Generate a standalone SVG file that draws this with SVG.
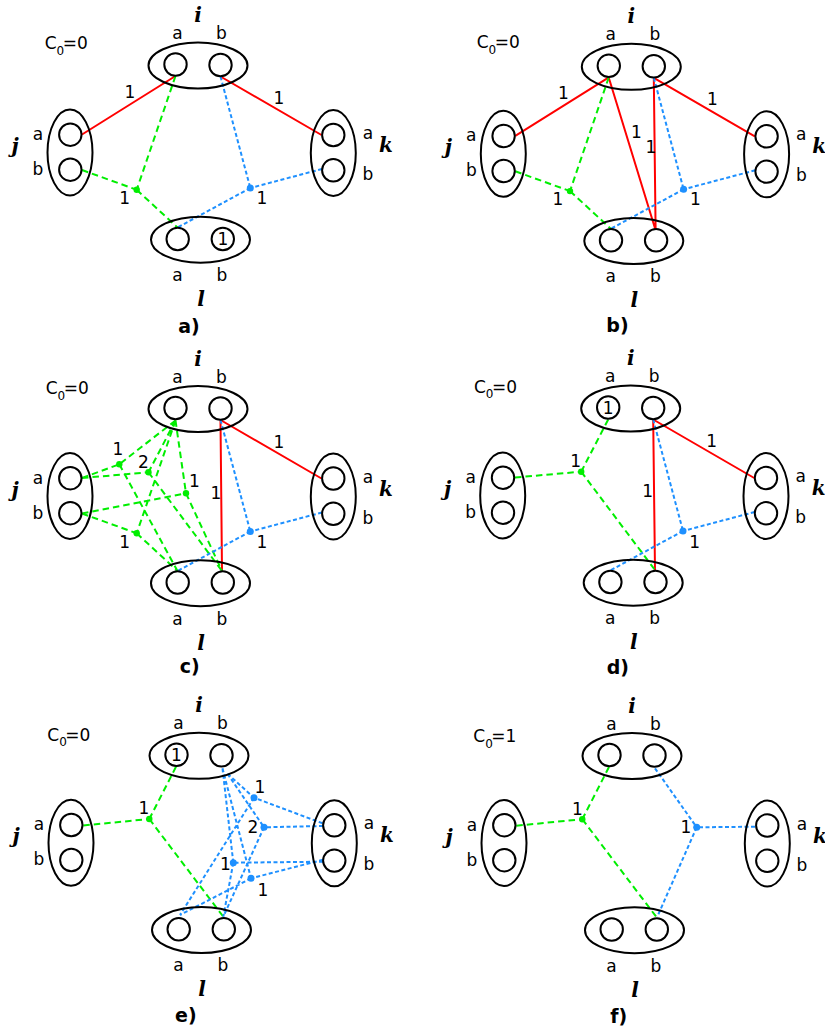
<svg xmlns="http://www.w3.org/2000/svg" width="825" height="1030" viewBox="0 0 825 1030">
<style>
.ell{fill:none;stroke:#000;stroke-width:2}
.lbl{font-family:"DejaVu Sans",sans-serif;font-size:17px;text-anchor:middle;fill:#000}
.c0{font-family:"DejaVu Sans",sans-serif;font-size:17px;fill:#000}
.sub{font-size:12px}
.nm{font-family:"DejaVu Serif",serif;font-weight:bold;font-style:italic;font-size:20px;text-anchor:middle;fill:#000}
.ttl{font-family:"DejaVu Sans",sans-serif;font-weight:bold;font-size:19px;text-anchor:middle;fill:#000}
.red{stroke:#ff0000;stroke-width:2;fill:none}
.grn{stroke:#00ee00;stroke-width:2;stroke-dasharray:6.5 4;fill:none}
.blu{stroke:#1e90ff;stroke-width:2;stroke-dasharray:4 2.5;fill:none}
.gd{fill:#00ee00}
.bd{fill:#1e90ff}
</style>
<rect width="825" height="1030" fill="#fff"/>

<!-- Panel a -->
<g id="panel-a" transform="translate(0,0)">
  <g id="a-connectors">
    <path class="red" d="M175.5,76 L82,134.5 M220.5,76.5 L321.5,135"/>
    <path class="grn" d="M82,170 L136.7,189.8 M175.5,76 L136.7,189.8 M136.7,189.8 L177.5,227.5"/>
    <path class="blu" d="M220.5,76.5 L250.3,188 M322,169 L250.3,188 M250.3,188 L177.5,227.5"/>
    <circle class="gd" cx="136.7" cy="189.8" r="3.2"/>
    <circle class="bd" cx="250.3" cy="188" r="3.5"/>
    <text class="lbl" x="130" y="98">1</text>
    <text class="lbl" x="279" y="104">1</text>
    <text class="lbl" x="124.7" y="204">1</text>
    <text class="lbl" x="262" y="204">1</text>
  </g>
  <g id="a-i"><ellipse class="ell" cx="198" cy="65.5" rx="49.5" ry="23"/><circle class="ell" cx="175.5" cy="64.5" r="11.2"/><circle class="ell" cx="220.5" cy="65" r="11.2"/><text class="lbl" x="177.5" y="39">a</text><text class="lbl" x="221.5" y="39">b</text><text class="nm" x="198" y="22">i</text></g>
  <g id="a-j"><ellipse class="ell" cx="70" cy="152.5" rx="22.5" ry="43"/><circle class="ell" cx="70.3" cy="134.7" r="11.2"/><circle class="ell" cx="70.3" cy="169.7" r="11.2"/><text class="lbl" x="38" y="140">a</text><text class="lbl" x="38" y="175">b</text><text class="nm" x="15" y="153">j</text></g>
  <g id="a-k"><ellipse class="ell" cx="333.3" cy="153" rx="22.5" ry="43"/><circle class="ell" cx="333.3" cy="135" r="11.2"/><circle class="ell" cx="333.3" cy="170.3" r="11.2"/><text class="lbl" x="368" y="139">a</text><text class="lbl" x="368" y="180">b</text><text class="nm" x="386" y="152">k</text></g>
  <g id="a-l"><ellipse class="ell" cx="200.5" cy="239.7" rx="49.5" ry="23"/><circle class="ell" cx="177.7" cy="239" r="11.2"/><circle class="ell" cx="222.8" cy="239" r="11.2"/><text class="lbl" x="222.8" y="245">1</text><text class="lbl" x="177.5" y="281">a</text><text class="lbl" x="222" y="281">b</text><text class="nm" x="201" y="306">l</text></g>
  <text id="a-c0" class="c0" x="44.7" y="49">C<tspan class="sub" dy="5.5">0</tspan><tspan dx="-1.5" dy="-5.5">=0</tspan></text>
</g>
<text class="ttl" x="189" y="333">a)</text>

<!-- Panel b -->
<g id="panel-b" transform="translate(433.3,1.3)">
  <g id="b-connectors">
    <path class="red" d="M175.5,76 L82,134.5 M220.5,76.5 L321.5,135 M175.5,76.5 L222,228 M220.5,76.5 L222.3,228"/>
    <path class="grn" d="M82,170 L136.7,189.8 M175.5,76 L136.7,189.8 M136.7,189.8 L177.5,227.5"/>
    <path class="blu" d="M220.5,76.5 L250.3,188 M322,169 L250.3,188 M250.3,188 L177.5,227.5"/>
    <circle class="gd" cx="136.7" cy="189.8" r="3.2"/>
    <circle class="bd" cx="250.3" cy="188" r="3.5"/>
    <text class="lbl" x="130" y="98">1</text>
    <text class="lbl" x="279" y="104">1</text>
    <text class="lbl" x="203" y="137">1</text>
    <text class="lbl" x="217.5" y="152">1</text>
    <text class="lbl" x="124.7" y="204">1</text>
    <text class="lbl" x="262" y="204">1</text>
  </g>
  <g id="b-i"><ellipse class="ell" cx="198" cy="65.5" rx="49.5" ry="23"/><circle class="ell" cx="175.5" cy="64.5" r="11.2"/><circle class="ell" cx="220.5" cy="65" r="11.2"/><text class="lbl" x="177.5" y="39">a</text><text class="lbl" x="221.5" y="39">b</text><text class="nm" x="198" y="22">i</text></g>
  <g id="b-j"><ellipse class="ell" cx="70" cy="152.5" rx="22.5" ry="43"/><circle class="ell" cx="70.3" cy="134.7" r="11.2"/><circle class="ell" cx="70.3" cy="169.7" r="11.2"/><text class="lbl" x="38" y="140">a</text><text class="lbl" x="38" y="175">b</text><text class="nm" x="15" y="153">j</text></g>
  <g id="b-k"><ellipse class="ell" cx="333.3" cy="153" rx="22.5" ry="43"/><circle class="ell" cx="333.3" cy="135" r="11.2"/><circle class="ell" cx="333.3" cy="170.3" r="11.2"/><text class="lbl" x="368" y="139">a</text><text class="lbl" x="368" y="180">b</text><text class="nm" x="386" y="152">k</text></g>
  <g id="b-l"><ellipse class="ell" cx="200.5" cy="239.7" rx="49.5" ry="23"/><circle class="ell" cx="177.7" cy="239" r="11.2"/><circle class="ell" cx="222.8" cy="239" r="11.2"/><text class="lbl" x="177.5" y="281">a</text><text class="lbl" x="222" y="281">b</text><text class="nm" x="201" y="306">l</text></g>
  <text id="b-c0" class="c0" x="43.4" y="47">C<tspan class="sub" dy="5.5">0</tspan><tspan dx="-1.5" dy="-5.5">=0</tspan></text>
</g>
<text class="ttl" x="617.5" y="332">b)</text>

<!-- Panel c -->
<g id="panel-c" transform="translate(0,343.5)">
  <g id="c-connectors">
    <path class="red" d="M220.5,76.5 L321.5,135 M220.5,77 L222,227.5"/>
    <path class="grn" d="M82,134.5 L119.3,120.8 M175.5,77 L119.3,120.8 M119.3,120.8 L177.5,227.5 M82,134.5 L148.5,128.8 M175.5,77 L148.5,128.8 M148.5,128.8 L222,227.5 M82,170 L186,149.8 M175.5,77 L186,149.8 M186,149.8 L222,227.5 M82,170 L136.7,189.8 M175.5,77 L136.7,189.8 M136.7,189.8 L177.5,227.5"/>
    <path class="blu" d="M220.5,76.5 L250.3,188 M322,169 L250.3,188 M250.3,188 L177.5,227.5"/>
    <circle class="gd" cx="119.3" cy="120.8" r="3.2"/>
    <circle class="gd" cx="148.5" cy="128.8" r="3.2"/>
    <circle class="gd" cx="186" cy="149.8" r="3.2"/>
    <circle class="gd" cx="136.7" cy="189.8" r="3.2"/>
    <circle class="bd" cx="250.3" cy="188" r="3.5"/>
    <text class="lbl" x="279" y="104">1</text>
    <text class="lbl" x="215.8" y="155.8">1</text>
    <text class="lbl" x="118" y="111.5">1</text>
    <text class="lbl" x="143.3" y="124.2">2</text>
    <text class="lbl" x="194.5" y="143.2">1</text>
    <text class="lbl" x="124.7" y="204.2">1</text>
    <text class="lbl" x="262" y="204.5">1</text>
  </g>
  <g id="c-i"><ellipse class="ell" cx="198" cy="65.5" rx="49.5" ry="23"/><circle class="ell" cx="175.5" cy="64.5" r="11.2"/><circle class="ell" cx="220.5" cy="65" r="11.2"/><text class="lbl" x="177.5" y="39">a</text><text class="lbl" x="221.5" y="39">b</text><text class="nm" x="198" y="22">i</text></g>
  <g id="c-j"><ellipse class="ell" cx="70" cy="152.5" rx="22.5" ry="43"/><circle class="ell" cx="70.3" cy="134.7" r="11.2"/><circle class="ell" cx="70.3" cy="169.7" r="11.2"/><text class="lbl" x="38" y="140">a</text><text class="lbl" x="38" y="175">b</text><text class="nm" x="15" y="153">j</text></g>
  <g id="c-k"><ellipse class="ell" cx="333.3" cy="153" rx="22.5" ry="43"/><circle class="ell" cx="333.3" cy="135" r="11.2"/><circle class="ell" cx="333.3" cy="170.3" r="11.2"/><text class="lbl" x="368" y="139">a</text><text class="lbl" x="368" y="180">b</text><text class="nm" x="386" y="152">k</text></g>
  <g id="c-l"><ellipse class="ell" cx="200.5" cy="239.7" rx="49.5" ry="23"/><circle class="ell" cx="177.7" cy="239" r="11.2"/><circle class="ell" cx="222.8" cy="239" r="11.2"/><text class="lbl" x="177.5" y="281">a</text><text class="lbl" x="222" y="281">b</text><text class="nm" x="201" y="306">l</text></g>
  <text id="c-c0" class="c0" x="45.7" y="50.5">C<tspan class="sub" dy="5.5">0</tspan><tspan dx="-1.5" dy="-5.5">=0</tspan></text>
</g>
<text class="ttl" x="189.7" y="673">c)</text>

<!-- Panel d -->
<g id="panel-d" transform="translate(432.7,343)">
  <g id="d-connectors">
    <path class="red" d="M220.5,76.5 L321.5,135 M220.5,77 L222.3,227.5"/>
    <path class="grn" d="M82.3,134.5 L148.5,128.7 M175.5,76.5 L148.5,128.7 M148.5,128.7 L222.3,227"/>
    <path class="blu" d="M220.5,76.5 L250.3,188 M322,169 L250.3,188 M250.3,188 L177.5,227.5"/>
    <circle class="gd" cx="148.5" cy="128.7" r="3.2"/>
    <circle class="bd" cx="250.3" cy="188" r="3.5"/>
    <text class="lbl" x="279" y="104">1</text>
    <text class="lbl" x="215" y="154.3">1</text>
    <text class="lbl" x="143" y="123.7">1</text>
    <text class="lbl" x="262" y="204.5">1</text>
  </g>
  <g id="d-i"><ellipse class="ell" cx="198" cy="65.5" rx="49.5" ry="23"/><circle class="ell" cx="175.5" cy="64.5" r="11.2"/><circle class="ell" cx="220.5" cy="65" r="11.2"/><text class="lbl" x="175.5" y="70.5">1</text><text class="lbl" x="177.5" y="39">a</text><text class="lbl" x="221.5" y="39">b</text><text class="nm" x="198" y="22">i</text></g>
  <g id="d-j"><ellipse class="ell" cx="70" cy="152.5" rx="22.5" ry="43"/><circle class="ell" cx="70.3" cy="134.7" r="11.2"/><circle class="ell" cx="70.3" cy="169.7" r="11.2"/><text class="lbl" x="38" y="140">a</text><text class="lbl" x="38" y="175">b</text><text class="nm" x="15" y="153">j</text></g>
  <g id="d-k"><ellipse class="ell" cx="333.3" cy="153" rx="22.5" ry="43"/><circle class="ell" cx="333.3" cy="135" r="11.2"/><circle class="ell" cx="333.3" cy="170.3" r="11.2"/><text class="lbl" x="368" y="139">a</text><text class="lbl" x="368" y="180">b</text><text class="nm" x="386" y="152">k</text></g>
  <g id="d-l"><ellipse class="ell" cx="200.5" cy="239.7" rx="49.5" ry="23"/><circle class="ell" cx="177.7" cy="239" r="11.2"/><circle class="ell" cx="222.8" cy="239" r="11.2"/><text class="lbl" x="177.5" y="281">a</text><text class="lbl" x="222" y="281">b</text><text class="nm" x="201" y="306">l</text></g>
  <text id="d-c0" class="c0" x="41.3" y="49.7">C<tspan class="sub" dy="5.5">0</tspan><tspan dx="-1.5" dy="-5.5">=0</tspan></text>
</g>
<text class="ttl" x="617.8" y="673.5">d)</text>

<!-- Panel e -->
<g id="panel-e" transform="translate(1,690.3)">
  <g id="e-connectors">
    <path class="grn" d="M82.3,135.2 L148.3,128.7 M175,76.5 L148.3,128.7 M148.3,128.7 L222.3,226.4"/>
    <path class="blu" d="M226.5,83.5 L253,107.4 M321.5,133 L253,107.4 M253,107.4 L179,224.7 M226.5,83.5 L263,137 M322,135.7 L263,137 M263,137 L222.3,226.4 M221.5,78 L232.3,172.4 M322,171.4 L232.3,172.4 M232.3,172.4 L222.3,226.4 M221.5,78 L250,188 M322,169.5 L250,188 M250,188 L179,224.7"/>
    <circle class="gd" cx="148.3" cy="128.7" r="3.2"/>
    <circle class="bd" cx="253" cy="107.4" r="3.5"/>
    <circle class="bd" cx="263" cy="137" r="3.5"/>
    <circle class="bd" cx="232.3" cy="172.4" r="3.5"/>
    <circle class="bd" cx="250" cy="188" r="3.5"/>
    <text class="lbl" x="143" y="124">1</text>
    <text class="lbl" x="259" y="103">1</text>
    <text class="lbl" x="251.8" y="143">2</text>
    <text class="lbl" x="224.5" y="179.7">1</text>
    <text class="lbl" x="262" y="205.4">1</text>
  </g>
  <g id="e-i"><ellipse class="ell" cx="198" cy="65.5" rx="49.5" ry="23"/><circle class="ell" cx="175.5" cy="64.5" r="11.2"/><circle class="ell" cx="220.5" cy="65" r="11.2"/><text class="lbl" x="175.5" y="70.5">1</text><text class="lbl" x="177.5" y="39">a</text><text class="lbl" x="221.5" y="39">b</text><text class="nm" x="198" y="22">i</text></g>
  <g id="e-j"><ellipse class="ell" cx="70" cy="152.5" rx="22.5" ry="43"/><circle class="ell" cx="70.3" cy="134.7" r="11.2"/><circle class="ell" cx="70.3" cy="169.7" r="11.2"/><text class="lbl" x="38" y="140">a</text><text class="lbl" x="38" y="175">b</text><text class="nm" x="15" y="153">j</text></g>
  <g id="e-k"><ellipse class="ell" cx="333.3" cy="153" rx="22.5" ry="43"/><circle class="ell" cx="333.3" cy="135" r="11.2"/><circle class="ell" cx="333.3" cy="170.3" r="11.2"/><text class="lbl" x="368" y="139">a</text><text class="lbl" x="368" y="180">b</text><text class="nm" x="386" y="152">k</text></g>
  <g id="e-l"><ellipse class="ell" cx="200.5" cy="239.7" rx="49.5" ry="23"/><circle class="ell" cx="177.7" cy="239" r="11.2"/><circle class="ell" cx="222.8" cy="239" r="11.2"/><text class="lbl" x="177.5" y="281">a</text><text class="lbl" x="222" y="281">b</text><text class="nm" x="201" y="306">l</text></g>
  <text id="e-c0" class="c0" x="46.3" y="50.7">C<tspan class="sub" dy="5.5">0</tspan><tspan dx="-1.5" dy="-5.5">=0</tspan></text>
</g>
<text class="ttl" x="185.8" y="1021.5">e)</text>

<!-- Panel f -->
<g id="panel-f" transform="translate(434,690.5)">
  <g id="f-connectors">
    <path class="grn" d="M82.3,135.2 L148.3,128.7 M175,76.5 L148.3,128.7 M148.3,128.7 L222.3,226.4"/>
    <path class="blu" d="M221,77.8 L262.7,136.8 M321,136.2 L262.7,136.8 M262.7,136.8 L223.3,226.2"/>
    <circle class="gd" cx="148.3" cy="128.7" r="3.2"/>
    <circle class="bd" cx="262.7" cy="136.8" r="3.5"/>
    <text class="lbl" x="143.5" y="124">1</text>
    <text class="lbl" x="251.8" y="142.8">1</text>
  </g>
  <g id="f-i"><ellipse class="ell" cx="198" cy="65.5" rx="49.5" ry="23"/><circle class="ell" cx="175.5" cy="64.5" r="11.2"/><circle class="ell" cx="220.5" cy="65" r="11.2"/><text class="lbl" x="177.5" y="39">a</text><text class="lbl" x="221.5" y="39">b</text><text class="nm" x="198" y="22">i</text></g>
  <g id="f-j"><ellipse class="ell" cx="70" cy="152.5" rx="22.5" ry="43"/><circle class="ell" cx="70.3" cy="134.7" r="11.2"/><circle class="ell" cx="70.3" cy="169.7" r="11.2"/><text class="lbl" x="38" y="140">a</text><text class="lbl" x="38" y="175">b</text><text class="nm" x="15" y="153">j</text></g>
  <g id="f-k"><ellipse class="ell" cx="333.3" cy="153" rx="22.5" ry="43"/><circle class="ell" cx="333.3" cy="135" r="11.2"/><circle class="ell" cx="333.3" cy="170.3" r="11.2"/><text class="lbl" x="368" y="139">a</text><text class="lbl" x="368" y="180">b</text><text class="nm" x="386" y="152">k</text></g>
  <g id="f-l"><ellipse class="ell" cx="200.5" cy="239.7" rx="49.5" ry="23"/><circle class="ell" cx="177.7" cy="239" r="11.2"/><circle class="ell" cx="222.8" cy="239" r="11.2"/><text class="lbl" x="177.5" y="281">a</text><text class="lbl" x="222" y="281">b</text><text class="nm" x="201" y="306">l</text></g>
  <text id="f-c0" class="c0" x="39.3" y="51.8">C<tspan class="sub" dy="5.5">0</tspan><tspan dx="-1.5" dy="-5.5">=1</tspan></text>
</g>
<text class="ttl" x="618.8" y="1022.5">f)</text>
</svg>
